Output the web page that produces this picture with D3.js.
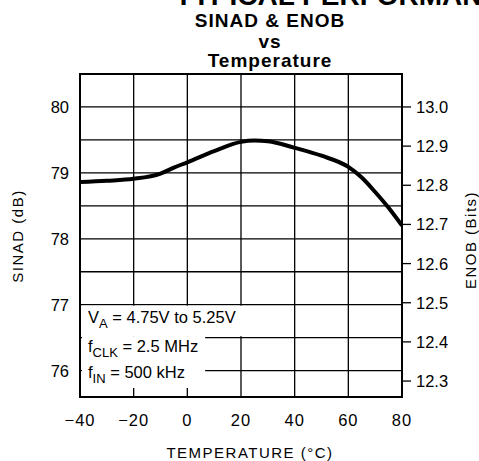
<!DOCTYPE html>
<html><head><meta charset="utf-8">
<script src="https://cdn.jsdelivr.net/npm/d3@7"></script>
<style>
body{margin:0;background:#fff;}
svg{display:block;}
text{font-family:"Liberation Sans",Arial,sans-serif;fill:#000;}
</style></head>
<body>
<svg id="chart" width="479" height="461"></svg>
<script>
// ---- data ----
const temperature = [-40, -30, -20, -10, -5, 0, 10, 20, 25, 30, 40, 50, 60, 65, 70, 75, 80];
const sinad       = [78.86, 78.88, 78.91, 78.99, 79.08, 79.16, 79.33, 79.47, 79.49, 79.48, 79.38, 79.26, 79.09, 78.93, 78.71, 78.47, 78.20];
const xTicks = [-40, -20, 0, 20, 40, 60, 80];
const xTickLabels = ["\u221240", "\u221220", "0", "20", "40", "60", "80"];
const sinadTicks = [76, 77, 78, 79, 80];
const sinadGrid = [76, 76.5, 77, 77.5, 78, 78.5, 79, 79.5, 80];
const enobTicks = [12.3, 12.4, 12.5, 12.6, 12.7, 12.8, 12.9, 13.0];
const titleLines = ["SINAD & ENOB", "vs", "Temperature"];
const legendLines = [
  {main:"V", sub:"A", rest:" = 4.75V  to  5.25V"},
  {main:"f", sub:"CLK", rest:" = 2.5 MHz"},
  {main:"f", sub:"IN", rest:" = 500 kHz"}
];

// ---- layout ----
const L = 80, R = 402, T = 74, B = 397;
const svg = d3.select("#chart");
const x = d3.scaleLinear().domain([-40, 80]).range([L, R]);
const y = d3.scaleLinear().domain([75.6, 80.5]).range([B, T]);
// ENOB axis: 13.0 bits aligned with 80 dB, 0.1 bit per 0.594 dB
const yE = d3.scaleLinear().domain([12.3, 13.0]).range([y(80 - 0.7 * 5.94), y(80)]);

// cut-off page heading
svg.append("text").attr("x", 175).attr("y", 5)
  .style("font-size", "28px").style("font-weight", "bold")
  .text("TYPICAL PERFORMANCE");

// titles
const titleY = [27, 48, 67];
titleLines.forEach((t, i) => {
  svg.append("text").attr("x", 270).attr("y", titleY[i])
    .attr("text-anchor", "middle")
    .style("font-size", "19px").style("font-weight", "bold").style("letter-spacing", "1px")
    .text(t);
});

// grid
const g = svg.append("g");
g.selectAll("line.v").data(xTicks.slice(1, -1)).join("line")
  .attr("x1", d => x(d)).attr("x2", d => x(d)).attr("y1", T).attr("y2", B)
  .attr("stroke", "#000").attr("stroke-width", 1.3);
g.selectAll("line.h").data(sinadGrid).join("line")
  .attr("x1", L).attr("x2", R).attr("y1", d => y(d)).attr("y2", d => y(d))
  .attr("stroke", "#000").attr("stroke-width", 1.3);

// curve
const line = d3.line().x((d, i) => x(temperature[i])).y(d => y(d)).curve(d3.curveMonotoneX);
svg.append("path").attr("d", line(sinad)).attr("fill", "none")
  .attr("stroke", "#000").attr("stroke-width", 4).attr("stroke-linejoin", "round");

// legend
const lg = svg.append("g");
const lineBase = [323, 352, 378];
const texts = legendLines.map((d, i) => {
  const t = lg.append("text").attr("x", 88).attr("y", lineBase[i]).style("font-size", "16.5px");
  t.append("tspan").text(d.main);
  t.append("tspan").attr("dy", 5).style("font-size", "13px").text(d.sub);
  t.append("tspan").attr("dy", -5).text(d.rest);
  return t;
});
const rights = texts.map(t => { const bb = t.node().getBBox(); return bb.x + bb.width + 7; });
// first line box (between 77 and 76.5 grid lines)
lg.insert("rect", "text").attr("x", L + 2).attr("y", y(77) + 1)
  .attr("width", rights[0] - L - 2).attr("height", y(76.5) - y(77) - 2.5)
  .attr("fill", "#fff");
// second & third line box
const r2 = Math.max(rights[1], rights[2]);
lg.insert("rect", "text").attr("x", L + 2).attr("y", y(76.5) - 1.5)
  .attr("width", r2 - L - 2).attr("height", (B - 9) - (y(76.5) - 1.5))
  .attr("fill", "#fff");

// frame
svg.append("rect").attr("x", L).attr("y", T).attr("width", R - L).attr("height", B - T)
  .attr("fill", "none").attr("stroke", "#000").attr("stroke-width", 2);

// left axis labels
svg.selectAll("text.yl").data(sinadTicks).join("text")
  .attr("x", 69).attr("y", d => y(d)).attr("text-anchor", "end").attr("dy", "0.36em")
  .style("font-size", "16.5px").text(d => d);

// right ticks + labels
svg.selectAll("line.rt").data(enobTicks).join("line")
  .attr("x1", R).attr("x2", R + 9).attr("y1", d => yE(d)).attr("y2", d => yE(d))
  .attr("stroke", "#000").attr("stroke-width", 1.3);
svg.selectAll("text.rl").data(enobTicks).join("text")
  .attr("x", 416).attr("y", d => yE(d)).attr("dy", "0.36em")
  .style("font-size", "16.5px").text(d => d.toFixed(1));

// x labels
svg.selectAll("text.xl").data(xTicks).join("text")
  .attr("x", d => x(d)).attr("y", 426).attr("text-anchor", "middle")
  .style("font-size", "16.5px").style("letter-spacing", "1px")
  .text((d, i) => xTickLabels[i]);

// axis titles
svg.append("text").attr("transform", "translate(23,236) rotate(-90)")
  .attr("text-anchor", "middle").style("font-size", "15px").style("letter-spacing", "1.5px")
  .text("SINAD (dB)");
svg.append("text").attr("transform", "translate(476,240) rotate(-90)")
  .attr("text-anchor", "middle").style("font-size", "15px").style("letter-spacing", "1.5px")
  .text("ENOB (Bits)");
svg.append("text").attr("x", 250).attr("y", 458)
  .attr("text-anchor", "middle").style("font-size", "15px").style("letter-spacing", "1.5px")
  .text("TEMPERATURE (\u00B0C)");
</script>
</body></html>
